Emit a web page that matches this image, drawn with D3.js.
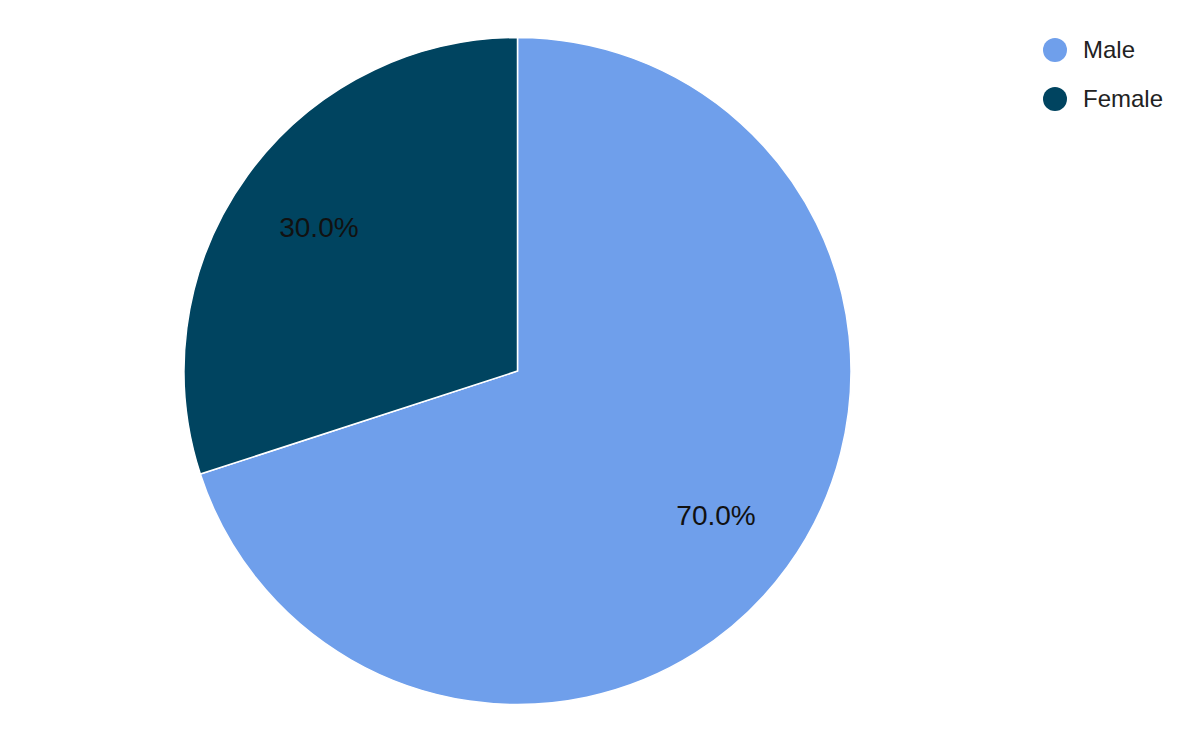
<!DOCTYPE html>
<html><head><meta charset="utf-8">
<script src="https://cdn.jsdelivr.net/npm/d3@7"></script>
<style>body{margin:0;background:#fff;}svg{display:block;font-family:"Liberation Sans",Arial,sans-serif;}</style>
</head><body>
<svg id="c" width="1200" height="742"></svg>
<script>
const categories = ["Male", "Female"];
const values = [70, 30];
const colors = ["#6f9feb", "#004460"];

const svg = d3.select("#c");
const cx = 517.5, cy = 371, r = 333.5;
const pie = d3.pie().sort(null).value(d => d.v);
const data = pie(categories.map((c, i) => ({c, v: values[i], col: colors[i]})));
const arc = d3.arc().innerRadius(0).outerRadius(r);
const labelArc = d3.arc().innerRadius(r * 0.736).outerRadius(r * 0.736);
const total = d3.sum(values);
const g = svg.append("g").attr("transform", `translate(${cx},${cy})`);
g.selectAll("path").data(data).join("path")
  .attr("d", arc).attr("fill", d => d.data.col)
  .attr("stroke", "#fff").attr("stroke-width", 1.5);
g.selectAll("text").data(data).join("text")
  .attr("transform", d => `translate(${labelArc.centroid(d)})`)
  .attr("text-anchor", "middle").attr("dy", "0.35em")
  .attr("font-size", 28).attr("fill", "#111")
  .text(d => (d.data.v / total * 100).toFixed(1) + "%");

const lg = svg.append("g").attr("transform", "translate(1055,50)");
const items = lg.selectAll("g").data(categories).join("g")
  .attr("transform", (d, i) => `translate(0,${i * 49})`);
items.append("circle").attr("r", 12).attr("fill", (d, i) => colors[i]);
items.append("text").attr("x", 28).attr("dy", "0.35em")
  .attr("font-size", 24).attr("fill", "#222").text(d => d);
</script>
</body></html>
